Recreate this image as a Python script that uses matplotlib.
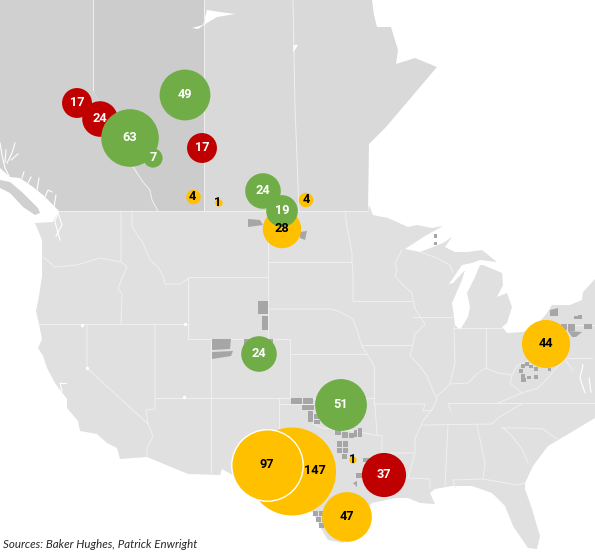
import matplotlib
matplotlib.use("Agg")
import matplotlib.pyplot as plt
from matplotlib.patches import Polygon, Rectangle

# ---- chart data ----
values = [147, 97, 28, 19, 24, 4, 1, 4, 17, 24, 63, 7, 49, 17, 24, 51, 1, 37, 47, 44]
xs = [292, 267, 282, 282, 263, 306, 219, 193.5, 77, 100, 130, 153, 185, 202, 259, 341, 353, 384, 347, 546]
ys = [471.5, 465, 229, 211, 191, 200, 203, 197, 103, 119, 138, 158, 95, 148, 354, 405, 460, 475, 517, 344]
status = ["a", "a", "a", "g", "g", "a", "a", "a", "r", "r", "g", "g", "g", "r", "g", "g", "a", "r", "a", "a"]
label_dx = [23, 0, 0, 0, 0, 0, -1, -1, 0, 0, 0, 0, 0, 0, 0, 0, 0, 0, 0, 0]
source = "Sources: Baker Hughes, Patrick Enwright"
palette = {"g": "#70AD47", "r": "#C00000", "a": "#FFC000"}

# ---- base map outlines (pixel space of the reference) ----
bc = [(0,0),(93,0),(93,90),(133,165),(143,182),(150,190),(152,200),(158,211),(59,211),(55,207),(43,195),(33,187),(20,178),(10,177),(0,168)]
van_isl = [(0,180),(10,182),(23,193),(38,208),(40,213),(35,215),(23,207),(10,193),(0,188)]
alberta = [(93,0),(204,0),(204,211),(158,211),(152,200),(150,190),(143,182),(133,165),(93,90)]
sk_mb = [(204,0),(372,0),(374,15),(377,27),(391,27),(398,50),(396,64),(415,58),(437,67),(386,127),(369,144),(368,211),(204,211)]
athabasca = [(192,28),(203,25),(207,10),(220,12),(235,14),(217,17),(207,23),(198,29)]
reindeer = [(293,45),(298,45),(293,53)]
usa = [(59,211),(368,211),(369,205),(373,215),(388,218),(408,227),(417,225),(432,228),(443,226),(425,236),(405,249),
       (420,252),(433,247),(443,243),(452,237),(445,247),(455,252),(468,252),(482,250),(497,262),(480,260),(472,263),(462,265),
       (449,284),(453,283),(465,270),(462,280),(452,303),(455,325),(460,330),(468,317),(470,307),(467,293),(475,277),(480,265),(483,265),
       (502,273),(503,285),(497,297),(507,293),(512,307),(507,323),(502,327),(507,333),(523,332),(537,325),(547,313),(552,305),(570,305),(582,300),(583,292),(595,279),
       (595,418),(565,436),(548,446),(533,466),(525,483),(525,489),(532,509),(540,536),(537,549),(528,548),(513,526),(505,506),(492,493),(472,486),(452,486),(435,489),(430,493),(435,504),(420,503),(408,498),(395,498),(372,503),(355,520),(343,543),
       (328,540),(320,527),(313,512),(285,505),(250,490),(238,478),(222,469),(220,475),(188,474),(147,457),(120,459),(117,448),(107,443),(97,434),(80,431),(78,421),(67,408),(67,399),(55,383),(47,368),(43,356),(38,348),(42,339),(39,324),(36,311),(39,296),(42,276),(42,240),(35,223),(53,222),(56,216)]
borders = [
    [(93,0),(93,90)], [(133,167),(143,182),(150,190),(152,200),(158,211)], [(204,0),(204,211)], [(293,0),(295,107),(299,211)],
    [(59,211),(368,211)],
    [(43,257),(55,267),(77,265),(100,258),(121,262)], [(121,211),(121,262),(127,267),(123,276),(118,288),(122,294),(121,324)],
    [(132,211),(132,227),(143,243),(150,260),(158,267),(163,276),(165,284),(180,284),(188,279)],
    [(188,277),(268,277),(268,339),(188,339),(188,277)], [(39,324),(188,324)],
    [(87,324),(87,368),(148,424)], [(155,324),(155,409),(146,410),(148,424),(153,436),(147,448),(147,457)],
    [(211,339),(211,475)], [(155,398),(374,398)], [(279,398),(279,440)], [(268,339),(290,339),(290,398)],
    [(290,354),(367,354)], [(268,309),(330,309),(338,311),(353,319),(358,333),(362,346),(370,359),(374,366)],
    [(268,262),(352,262)], [(268,211),(268,277)], [(345,211),(347,227),(352,253),(352,262),(353,276),(353,301)],
    [(353,301),(413,301)], [(402,250),(395,263),(397,270),(395,276),(402,284),(412,293),(415,309),(425,324),(415,334),(412,348),(410,356),(420,366),(427,376),(433,391),(437,399),(433,408),(423,421),(415,439),(415,453),(408,478)],
    [(362,345),(412,345)], [(374,366),(374,404)], [(279,404),(313,404)], [(374,404),(425,404),(423,411),(432,410)],
    [(313,404),(313,424),(322,428),(335,429),(355,431),(375,435),(382,436),(382,453),(414,453)], [(375,404),(377,435)], [(382,453),(384,470),(390,498)],
    [(413,317),(452,317)], [(454,328),(455,363),(450,384)], [(454,328),(502,328)], [(486,328),(486,368)],
    [(437,396),(443,391),(450,384),(468,383),(478,373),(486,368),(498,373),(512,375),(517,366),(528,361)],
    [(512,375),(510,383),(522,393),(538,388),(547,379),(558,366),(565,359),(573,371)], [(522,393),(498,403)],
    [(448,403),(595,403)], [(448,403),(451,411)], [(423,425),(492,424),(498,418),(518,406),(522,404)],
    [(502,428),(525,428),(543,429),(557,439)], [(503,428),(512,436),(522,449),(528,463)],
    [(477,425),(485,463),(483,479)], [(448,425),(445,486)], [(453,480),(483,479),(517,485),(525,483)], [(453,480),(455,488)],
    [(410,478),(430,479),(430,489)], [(420,252),(437,258),(450,265),(453,273)], [(567,358),(592,358)], [(558,325),(595,325)],
]
white_lines = [
    [(0,143),(2,155),(5,168),(9,176)], [(15,143),(12,153),(7,163)], [(18,154),(11,160)], [(6,150),(5,162)],
    [(22,178),(24,172)], [(28,183),(31,177)], [(37,190),(39,178)], [(45,197),(48,190),(52,192)], [(54,207),(56,195)],
    [(58,212),(55,222),(60,240)], [(57,210),(62,225),(56,236)], [(60,383),(66,383)], [(60,383),(62,391)],
    [(583,365),(580,378),(585,393)], [(589,378),(591,392)],
]
dots = [(82,325),(185,324),(87,368),(184,397)]
shale_poly = [
    [(248,219),(260,220),(263,225),(248,227)], [(300,232),(307,231),(305,240),(300,238)],
    [(212,339),(231,339),(230,349),(212,350)], [(212,352),(233,351),(231,356),(212,359)], [(244,339),(273,339),(273,345),(244,345)],
    [(353,483),(357,481),(357,487)], [(550,310),(558,308),(558,316),(550,316)],
    [(568,331),(582,332),(576,337),(572,337)],
]
shale_rect = [
    (258,301,10,13),(262,316,6,14),(291,398,11,6),(303,398,10,6),(302,405,6,5),(308,405,6,5),(308,411,5,6),(308,417,5,5),(314,414,6,5),(314,420,6,4),
    (335,430,6,5),(342,432,6,6),(349,433,5,5),(354,430,3,7),(358,428,4,9),(337,441,5,6),(343,441,5,6),(337,448,5,5),(343,448,5,5),(342,454,5,5),
    (363,458,7,4),(356,473,7,5),(574,316,4,3),(578,315,4,4),(561,324,6,6),(568,324,7,7),(584,324,8,5),(434,234,3,4),(434,242,3,3),
    (525,362,4,4),(521,364,4,4),(519,369,4,4),(521,374,4,4),(521,378,5,4),(527,376,4,3),(534,375,4,4),(534,367,4,4),(529,365,4,3),(548,368,3,3),
    (313,511,5,5),(319,511,5,5),(316,517,5,5),(322,517,3,5),(319,523,5,5),
]

fig = plt.figure(figsize=(5.95, 5.52), dpi=100, facecolor="white")
ax = fig.add_axes([0, 0, 1, 1])
ax.set_xlim(0, 595)
ax.set_ylim(552, 0)
ax.axis("off")

for pts, col in [(bc, "#D0D0D0"), (van_isl, "#D0D0D0"), (alberta, "#CCCCCC"), (sk_mb, "#D9D9D9"), (usa, "#E0E0E0")]:
    ax.add_patch(Polygon(pts, closed=True, fc=col, ec="none", zorder=1))
for pts in (athabasca, reindeer):
    ax.add_patch(Polygon(pts, closed=True, fc="white", ec="none", zorder=2))
for b in borders:
    ax.plot([p[0] for p in b], [p[1] for p in b], color="#F0F0F0", lw=0.7, zorder=2, solid_joinstyle="round")
for b in white_lines:
    ax.plot([p[0] for p in b], [p[1] for p in b], color="white", lw=0.8, zorder=2)
ax.plot([p[0] for p in dots], [p[1] for p in dots], ls="none", marker="o", ms=2.4, mfc="white", mec="none", zorder=2)
for pts in shale_poly:
    ax.add_patch(Polygon(pts, closed=True, fc="#A6A6A6", ec="none", zorder=3))
for x, y, w, h in shale_rect:
    ax.add_patch(Rectangle((x, y), w, h, fc="#A6A6A6", ec="none", zorder=3))

AREA = 27.3
for i, v in enumerate(values):
    edge = "white" if v == 97 else "none"
    ax.scatter([xs[i]], [ys[i]], s=AREA * v, c=palette[status[i]], edgecolors=edge,
               linewidths=1.0 if v == 97 else 0, zorder=4 + i * 0.01)
    ink = "black" if status[i] == "a" else "white"
    ax.text(xs[i] + label_dx[i], ys[i] - 0.5, str(v), ha="center", va="center", color=ink, fontsize=9.2,
            family="Roboto", fontweight="bold", zorder=5)

ax.text(3, 545, source, ha="left", va="center", fontsize=8.3, family="Lato", style="italic", color="#262626", zorder=5)
fig.savefig("out.png", dpi=100, facecolor="white")
